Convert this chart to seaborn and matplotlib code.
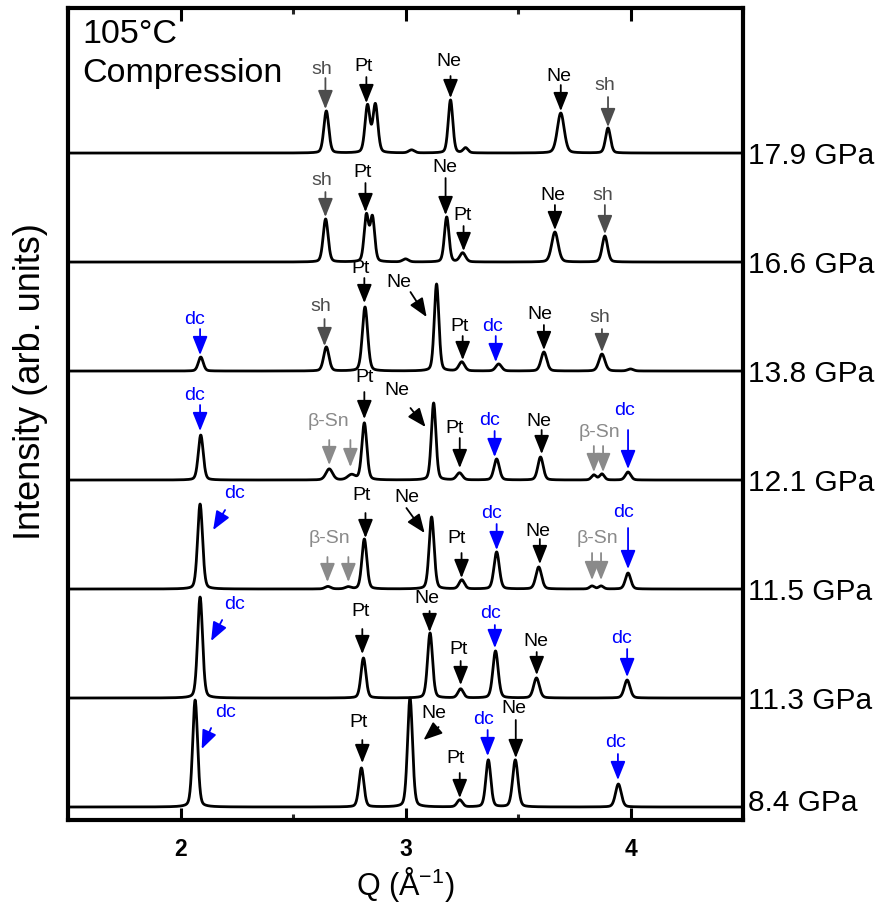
import numpy as np
import pandas as pd
import matplotlib
matplotlib.use("Agg")
import matplotlib.pyplot as plt
from matplotlib.ticker import MultipleLocator, FixedLocator
from matplotlib.patches import ArrowStyle
import matplotlib.transforms as mtransforms
import seaborn as sns

# ---------------------------------------------------------------- data
pressures = ["8.4 GPa", "11.3 GPa", "11.5 GPa", "12.1 GPa",
             "13.8 GPa", "16.6 GPa", "17.9 GPa"]

# Peak list of each pattern: position Q (1/Å), height (arb. units), FWHM (1/Å)
q_84 = [2.065, 2.804, 3.020, 3.241, 3.368, 3.488, 3.946]
h_84 = [107, 39, 109, 7, 47, 47, 23]
w_84 = [0.026, 0.026, 0.026, 0.028, 0.026, 0.028, 0.030]

q_113 = [2.087, 2.813, 3.109, 3.245, 3.400, 3.582, 3.985]
h_113 = [101, 40, 65, 9, 47, 20, 18]
w_113 = [0.026, 0.026, 0.026, 0.028, 0.028, 0.030, 0.030]

q_115 = [2.087, 2.655, 2.745, 2.817, 3.116, 3.250, 3.405, 3.592, 3.829, 3.869, 3.989]
h_115 = [85, 2.5, 2, 50, 72, 9, 37, 22, 3, 3, 16]
w_115 = [0.026, 0.030, 0.030, 0.026, 0.026, 0.028, 0.028, 0.030, 0.025, 0.025, 0.028]

q_121 = [2.090, 2.661, 2.760, 2.817, 3.125, 3.240, 3.405, 3.600, 3.837, 3.873, 3.989]
h_121 = [45, 11, 5, 57, 77, 7, 21, 23, 5, 6, 8]
w_121 = [0.026, 0.035, 0.040, 0.026, 0.024, 0.030, 0.028, 0.028, 0.025, 0.025, 0.028]

q_138 = [2.090, 2.648, 2.820, 3.138, 3.250, 3.414, 3.615, 3.873, 4.000]
h_138 = [14, 24, 64, 87, 9, 7, 19, 17, 2]
w_138 = [0.026, 0.028, 0.028, 0.024, 0.030, 0.030, 0.030, 0.032, 0.030]

q_166 = [2.645, 2.826, 2.853, 3.000, 3.183, 3.254, 3.664, 3.886]
h_166 = [43, 46, 44, 3, 45, 9, 30, 26]
w_166 = [0.026, 0.0235, 0.0235, 0.030, 0.024, 0.030, 0.034, 0.028]

q_179 = [2.648, 2.831, 2.866, 3.027, 3.200, 3.267, 3.690, 3.900]
h_179 = [42, 47, 48, 3, 53, 5, 40, 25]
w_179 = [0.026, 0.026, 0.026, 0.030, 0.024, 0.025, 0.036, 0.026]

peak_q = [q_84, q_113, q_115, q_121, q_138, q_166, q_179]
peak_h = [h_84, h_113, h_115, h_121, h_138, h_166, h_179]
peak_w = [w_84, w_113, w_115, w_121, w_138, w_166, w_179]

# Peak labels: (text, phase, text Q, text height, arrow tail Q, tail height,
# arrow tip Q, tip height); heights are measured from the pattern's baseline
ann_84 = [
    ("dc", "dc", 2.200, 95, 2.136, 79, 2.094, 58),
    ("Pt", "ref", 2.790, 85, 2.808, 67, 2.808, 44),
    ("Ne", "ref", 3.125, 94, 3.147, 80, 3.080, 67),
    ("Pt", "ref", 3.222, 49, 3.241, 34, 3.241, 9),
    ("dc", "dc", 3.345, 88, 3.365, 77, 3.365, 51),
    ("Ne", "ref", 3.481, 99, 3.490, 87, 3.490, 49),
    ("dc", "dc", 3.933, 65, 3.944, 53, 3.944, 27),
]
ann_113 = [
    ("dc", "dc", 2.238, 94, 2.185, 78, 2.136, 57),
    ("Pt", "ref", 2.800, 87, 2.808, 69, 2.808, 44),
    ("Ne", "ref", 3.094, 100, 3.107, 87, 3.107, 66),
    ("Pt", "ref", 3.234, 49, 3.245, 37, 3.245, 13),
    ("dc", "dc", 3.376, 85, 3.397, 73, 3.397, 50),
    ("Ne", "ref", 3.579, 57, 3.583, 46, 3.583, 23),
    ("dc", "dc", 3.962, 60, 3.985, 49, 3.985, 21),
]
ann_115 = [
    ("dc", "dc", 2.238, 96, 2.198, 79, 2.145, 59),
    ("β-Sn", "bsn", 2.662, 51, 2.653, 32, 2.653, 7),
    ("", "bsn", None, None, 2.746, 32, 2.746, 7),
    ("Pt", "ref", 2.804, 94, 2.822, 76, 2.822, 51),
    ("Ne", "ref", 3.004, 92, 3.004, 81, 3.085, 56),
    ("Pt", "ref", 3.228, 51, 3.249, 36, 3.249, 11),
    ("dc", "dc", 3.383, 76, 3.405, 65, 3.405, 39),
    ("Ne", "ref", 3.588, 58, 3.597, 50, 3.597, 25),
    ("β-Sn", "bsn", 3.855, 51, 3.829, 36, 3.829, 9),
    ("", "bsn", None, None, 3.869, 36, 3.869, 9),
    ("dc", "dc", 3.969, 77, 3.989, 61, 3.989, 20),
]
ann_121 = [
    ("dc", "dc", 2.064, 85, 2.087, 75, 2.087, 49),
    ("β-Sn", "bsn", 2.657, 59, 2.661, 40, 2.661, 15),
    ("", "bsn", None, None, 2.755, 40, 2.755, 13),
    ("Pt", "ref", 2.817, 103, 2.817, 88, 2.817, 61),
    ("Ne", "ref", 2.962, 90, 3.022, 72, 3.089, 53),
    ("Pt", "ref", 3.220, 52, 3.241, 42, 3.241, 12),
    ("dc", "dc", 3.375, 60, 3.396, 49, 3.396, 23),
    ("Ne", "ref", 3.592, 59, 3.605, 50, 3.605, 26),
    ("β-Sn", "bsn", 3.864, 48, 3.837, 34, 3.837, 8),
    ("", "bsn", None, None, 3.878, 34, 3.878, 8),
    ("dc", "dc", 3.973, 70, 3.989, 50, 3.989, 11),
]
ann_138 = [
    ("dc", "dc", 2.064, 52, 2.087, 42, 2.087, 16),
    ("sh", "sh", 2.624, 65, 2.640, 52, 2.640, 25),
    ("Pt", "ref", 2.800, 103, 2.817, 93, 2.817, 68),
    ("Ne", "ref", 2.969, 89, 3.022, 79, 3.094, 54),
    ("Pt", "ref", 3.240, 45, 3.254, 35, 3.254, 11),
    ("dc", "dc", 3.385, 45, 3.401, 35, 3.401, 9),
    ("Ne", "ref", 3.598, 57, 3.615, 46, 3.615, 21),
    ("sh", "sh", 3.862, 54, 3.873, 42, 3.873, 19),
]
ann_166 = [
    ("sh", "sh", 2.628, 82, 2.644, 70, 2.644, 45),
    ("Pt", "ref", 2.808, 90, 2.822, 79, 2.822, 50),
    ("Ne", "ref", 3.174, 95, 3.178, 84, 3.178, 47),
    ("Pt", "ref", 3.254, 47, 3.258, 36, 3.258, 11),
    ("Ne", "ref", 3.654, 67, 3.664, 57, 3.664, 32),
    ("sh", "sh", 3.878, 67, 3.886, 57, 3.886, 28),
]
ann_179 = [
    ("sh", "sh", 2.630, 84, 2.644, 75, 2.644, 44),
    ("Pt", "ref", 2.814, 87, 2.826, 76, 2.826, 50),
    ("Ne", "ref", 3.193, 92, 3.200, 77, 3.200, 55),
    ("Ne", "ref", 3.680, 77, 3.690, 68, 3.690, 42),
    ("sh", "sh", 3.885, 68, 3.900, 56, 3.900, 26),
]
annotations = [ann_84, ann_113, ann_115, ann_121, ann_138, ann_166, ann_179]

xticks_major = [2, 3, 4]

# ---------------------------------------------------------------- styling
sns.set_theme(style="white")
plt.rcParams["font.family"] = ["Liberation Sans", "DejaVu Sans"]
plt.rcParams["mathtext.fontset"] = "custom"
plt.rcParams["mathtext.rm"] = "Liberation Sans"

phase_colors = {"ref": "black", "dc": "#0000ff", "sh": "#4d4d4d", "bsn": "#8a8a8a"}

STACK_STEP = 109      # vertical spacing between patterns
STACK_FIRST = 13      # baseline of the lowest pattern


def pattern(q, centers, heights, fwhms, eta=0.25):
    """Pseudo-Voigt sum of the listed reflections."""
    y = np.zeros_like(q)
    for c, h, w in zip(centers, heights, fwhms):
        sigma = w / 2.3548
        gauss = np.exp(-0.5 * ((q - c) / sigma) ** 2)
        lorentz = 1.0 / (1.0 + ((q - c) / (w / 2)) ** 2)
        y += h * (eta * lorentz + (1 - eta) * gauss)
    return y


q_grid = np.linspace(1.5, 4.5, 3001)
frames = []
for i, (label, cq, ch, cw) in enumerate(zip(pressures, peak_q, peak_h, peak_w)):
    base = STACK_FIRST + STACK_STEP * i
    frames.append(pd.DataFrame({
        "Q": q_grid,
        "intensity": base + pattern(q_grid, cq, ch, cw),
        "pressure": label,
    }))
df = pd.concat(frames, ignore_index=True)

fig = plt.figure(figsize=(8.89, 9.06), dpi=100)
ax = fig.add_axes([0.0765, 0.0949, 0.7593, 0.8962])

sns.lineplot(data=df, x="Q", y="intensity", units="pressure", estimator=None,
             color="black", lw=2.0, sort=False, ax=ax, legend=False)

ax.set_xlim(1.5, 4.5)
ax.set_ylim(0, 812)

# frame and ticks
for side in ["left", "right", "top", "bottom"]:
    ax.spines[side].set_visible(True)
    ax.spines[side].set_linewidth(3.0)
    ax.spines[side].set_color("black")
ax.xaxis.set_major_locator(FixedLocator(xticks_major))
ax.xaxis.set_minor_locator(MultipleLocator(0.5))
ax.tick_params(axis="x", which="major", direction="in", length=9, width=2.2,
               top=True, bottom=True, pad=13, labelsize=16.5, colors="black")
ax.tick_params(axis="x", which="minor", direction="in", length=4, width=2.2,
               top=True, bottom=True)
ax.tick_params(axis="y", which="both", left=False, right=False, labelleft=False)
ax.set_xticklabels([str(v) for v in xticks_major], fontweight="bold")

ax.set_xlabel("Q (Å$^{-1}$)", fontsize=22, labelpad=3, color="black")
ax.set_ylabel("Intensity (arb. units)", fontsize=26, color="black")
ax.yaxis.set_label_coords(-0.030, 0.54)

# pressure labels on the right of each pattern
label_tr = mtransforms.blended_transform_factory(ax.transAxes, ax.transData)
for i, label in enumerate(pressures):
    base = STACK_FIRST + STACK_STEP * i
    shift = 7 if i == 0 else 0
    ax.text(1.007, base + shift, label, transform=label_tr, ha="left",
            va="center_baseline", fontsize=21.5, color="black", clip_on=False)

# reflection markers
arrow_style = ArrowStyle("-|>", head_length=0.6, head_width=0.24)
for i, anns in enumerate(annotations):
    base = STACK_FIRST + STACK_STEP * i
    for text, phase, tq, ty, aq, ay, bq, by in anns:
        col = phase_colors[phase]
        ax.annotate("", xy=(bq, base + by), xytext=(aq, base + ay),
                    arrowprops=dict(arrowstyle=arrow_style, mutation_scale=19,
                                    color=col, lw=1.3, shrinkA=0, shrinkB=0))
        if text:
            ax.text(tq, base + ty, text, ha="center", va="center",
                    fontsize=14, color=col)

# condition label
ax.text(0.021, 777, "105°C", transform=label_tr, ha="left", va="baseline",
        fontsize=24.5, color="black")
ax.text(0.021, 738, "Compression", transform=label_tr, ha="left",
        va="baseline", fontsize=24.5, color="black")

fig.savefig("out.png", dpi=100)
